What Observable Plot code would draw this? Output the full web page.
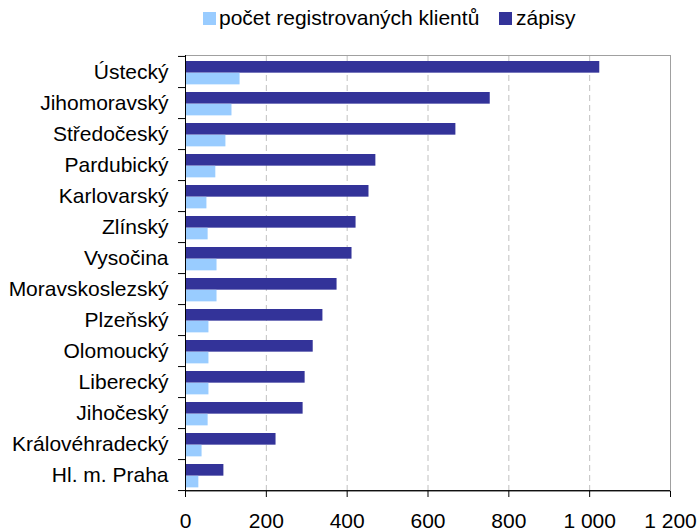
<!DOCTYPE html>
<html>
<head>
<meta charset="utf-8">
<script src="https://cdn.jsdelivr.net/npm/d3@7"></script>
<script src="https://cdn.jsdelivr.net/npm/@observablehq/plot@0.6"></script>
<style>
  html, body { margin: 0; padding: 0; background: #fff; }
  body { width: 698px; height: 531px; overflow: hidden; font-family: "Liberation Sans", Arial, sans-serif; }
  #legend { position: relative; height: 40px; font-size: 21px; color: #000; }
  .sw { position: absolute; top: 12px; width: 13px; height: 13px; }
  .lt { position: absolute; top: 7px; line-height: 22px; white-space: nowrap; }
  svg { display: block; }
</style>
</head>
<body>
<div id="legend"></div>
<div id="chart"></div>
<script>
const regions = ["Ústecký", "Jihomoravský", "Středočeský", "Pardubický", "Karlovarský", "Zlínský", "Vysočina", "Moravskoslezský", "Plzeňský", "Olomoucký", "Liberecký", "Jihočeský", "Královéhradecký", "Hl. m. Praha"];
const zapisy = [1025, 754, 669, 471, 454, 422, 412, 375, 340, 316, 296, 291, 224, 95];
const klienti = [135, 115, 100, 75, 53, 56, 78, 78, 58, 58, 58, 56, 41, 33];
const seriesNames = ["počet registrovaných klientů", "zápisy"];
const seriesColors = ["#99ccff", "#333399"];
const xTicks = [0, 200, 400, 600, 800, 1000, 1200];
const xTickLabels = ["0", "200", "400", "600", "800", "1 000", "1 200"];

// legend
const legend = document.getElementById("legend");
const legendPos = [{sw: 203, tx: 219}, {sw: 499, tx: 516}];
seriesNames.forEach((name, i) => {
  const s = document.createElement("div");
  s.className = "sw";
  s.style.left = legendPos[i].sw + "px";
  s.style.background = seriesColors[i];
  legend.appendChild(s);
  const t = document.createElement("div");
  t.className = "lt";
  t.style.left = legendPos[i].tx + "px";
  t.textContent = name;
  legend.appendChild(t);
});

const data = regions.map((r, i) => ({region: r, zapisy: zapisy[i], klienti: klienti[i]}));

const height = 491, marginTop = 15, marginBottom = 40;
const step = (height - marginTop - marginBottom) / regions.length;

const chart = Plot.plot({
  width: 698,
  height,
  marginTop,
  marginBottom,
  marginLeft: 185,
  marginRight: 28,
  style: {fontFamily: "'Liberation Sans', Arial, sans-serif", fontSize: "21px", color: "#000", background: "#fff"},
  x: {domain: [0, 1200], axis: null},
  y: {domain: regions, padding: 0, axis: null},
  marks: [
    Plot.gridX(xTicks.slice(1, -1), {stroke: "#c0c0c0", strokeOpacity: 1, strokeDasharray: "6,4"}),
    Plot.frame({stroke: "#a0a0a0"}),
    Plot.barX(data, {y: "region", x: "zapisy", fill: seriesColors[1], insetTop: 5, insetBottom: step - 16.8}),
    Plot.barX(data, {y: "region", x: "klienti", fill: seriesColors[0], insetTop: 16.8, insetBottom: step - 28.5}),
    Plot.ruleX([0], {stroke: "#000"}),
    Plot.ruleY([regions[regions.length - 1]], {y: d => d, dy: step / 2, stroke: "#000"}),
    Plot.axisX({ticks: xTicks, tickFormat: (d) => xTickLabels[xTicks.indexOf(d)], tickSize: 6, tickPadding: 16, fontSize: 21, stroke: "#000", label: null}),
    Plot.axisY({tickSize: 0, tickPadding: 17, fontSize: 21, label: null}),
    Plot.axisY({tickSize: 7, fill: "none", dy: step / 2, stroke: "#000", label: null}),
    Plot.axisY({ticks: [regions[0]], tickSize: 7, fill: "none", dy: -step / 2, stroke: "#000", label: null})
  ]
});
document.getElementById("chart").appendChild(chart);
</script>
</body>
</html>
